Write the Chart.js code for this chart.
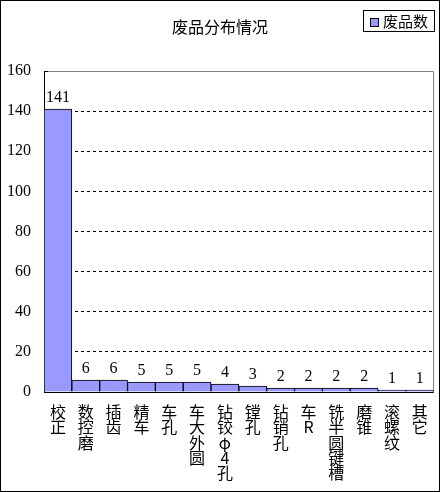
<!DOCTYPE html>
<html><head><meta charset="utf-8">
<script src="https://cdn.jsdelivr.net/npm/chart.js@4/dist/chart.umd.min.js"></script>
<style>html,body{margin:0;padding:0;background:#fff}#wrap{width:440px;height:492px}</style>
</head><body><div id="wrap"><canvas id="c" width="440" height="492"></canvas></div>
<script>
const chartTitle = '废品分布情况';
const seriesName = '废品数';
const categories = ['校正','数控磨','插齿','精车','车孔','车大外圆','钻铰φ4孔','镗孔','钻销孔','车R','铣半圆键槽','磨锥','滚螺纹','其它'];
const values = [141, 6, 6, 5, 5, 5, 4, 3, 2, 2, 2, 2, 1, 1];
const yMin = 0, yMax = 160, yStep = 20;

const FONT = "'Liberation Serif', 'Noto Sans CJK SC', serif";
const CJK = "'Noto Sans CJK SC', sans-serif";
const barFill = '#9999FF';

const decor = {
  id: 'decor',
  beforeDraw(chart) {
    const ctx = chart.ctx;
    ctx.save();
    ctx.fillStyle = '#fff';
    ctx.fillRect(0, 0, chart.width, chart.height);
    ctx.restore();
  },
  beforeDatasetsDraw(chart) {
    const {ctx, chartArea: a} = chart;
    ctx.save();
    ctx.strokeStyle = '#808080';
    ctx.lineWidth = 1;
    ctx.beginPath();
    ctx.moveTo(Math.round(a.left) + 0.5, Math.round(a.top) + 0.5);
    ctx.lineTo(Math.round(a.right) - 0.5, Math.round(a.top) + 0.5);
    ctx.lineTo(Math.round(a.right) - 0.5, Math.round(a.bottom) + 0.5);
    ctx.stroke();
    // inward tick marks on y axis
    const ys = chart.scales.y;
    ctx.strokeStyle = '#000';
    ctx.beginPath();
    ys.ticks.forEach(t => {
      const py = Math.round(ys.getPixelForValue(t.value)) + 0.5;
      ctx.moveTo(a.left, py);
      ctx.lineTo(a.left + 4, py);
    });
    ctx.stroke();
    ctx.restore();
  },
  afterDatasetsDraw(chart) {
    const ctx = chart.ctx;
    const meta = chart.getDatasetMeta(0);
    ctx.save();
    ctx.fillStyle = '#000';
    ctx.font = '16px ' + FONT;
    ctx.textAlign = 'center';
    ctx.textBaseline = 'alphabetic';
    meta.data.forEach((bar, i) => {
      ctx.fillText(String(values[i]), bar.x, bar.y - 7);
    });
    ctx.restore();
  },
  afterDraw(chart) {
    const ctx = chart.ctx;
    ctx.save();
    // title
    ctx.fillStyle = '#000';
    ctx.font = '16px ' + CJK;
    ctx.textAlign = 'center';
    ctx.textBaseline = 'middle';
    ctx.fillText(chartTitle, 220, 27);
    // legend
    ctx.strokeStyle = '#000';
    ctx.lineWidth = 1;
    ctx.strokeRect(363.5, 10.5, 71, 21);
    ctx.fillStyle = barFill;
    ctx.fillRect(370, 18, 8, 8);
    ctx.strokeRect(370.5, 18.5, 8, 8);
    ctx.fillStyle = '#000';
    ctx.textAlign = 'left';
    ctx.font = '15px ' + CJK;
    ctx.fillText(seriesName, 383, 21);
    // outer border
    ctx.strokeRect(0.5, 0.5, chart.width - 1, chart.height - 1);
    ctx.restore();
  }
};

new Chart(document.getElementById('c'), {
  type: 'bar',
  data: {
    labels: categories,
    datasets: [{
      label: seriesName,
      data: values,
      backgroundColor: barFill,
      borderColor: '#000',
      borderWidth: 1,
      categoryPercentage: 1,
      barPercentage: 1
    }]
  },
  options: {
    responsive: false,
    animation: false,
    devicePixelRatio: 1,
    layout: { padding: { top: 71, right: 5, left: 0, bottom: 0 } },
    plugins: { legend: { display: false }, title: { display: false }, tooltip: { enabled: false } },
    scales: {
      x: {
        grid: { display: false, drawTicks: false },
        border: { display: true, color: '#000', width: 1 },
        ticks: {
          autoSkip: false, maxRotation: 0, minRotation: 0, padding: 12,
          color: '#000',
          font: { family: CJK, size: 16, lineHeight: '15.4px' },
          callback: (v, i) => Array.from(categories[i])
        },
        afterFit: s => { s.height = 100; }
      },
      y: {
        min: yMin, max: yMax,
        grid: {
          drawTicks: false,
          color: c => (c.tick && (c.tick.value === yMin || c.tick.value === yMax)) ? 'rgba(0,0,0,0)' : '#000',
          lineWidth: 1
        },
        border: { display: true, color: '#000', width: 1, dash: [3, 3] },
        ticks: {
          stepSize: yStep, padding: 13, color: '#000',
          font: { family: FONT, size: 16 }
        },
        afterFit: s => { s.width = 44; }
      }
    }
  },
  plugins: [decor]
});
</script>
</body></html>
